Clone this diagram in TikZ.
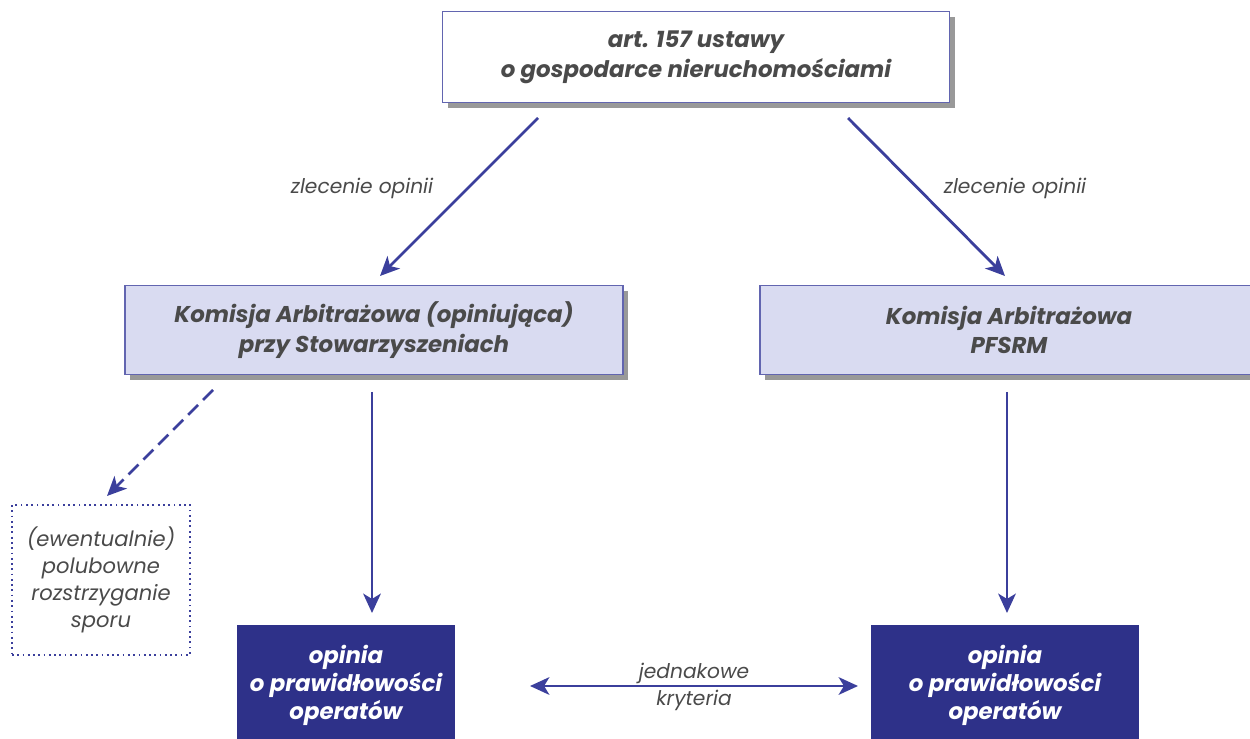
\documentclass[tikz,border=0pt]{standalone}
\usepackage{fontspec}
\setmainfont{Poppins}
\usetikzlibrary{arrows.meta,shadows}

\definecolor{ciemny}{HTML}{2E3189}
\definecolor{strzalka}{HTML}{3B3F9C}
\definecolor{jasny}{HTML}{D9DBF1}
\definecolor{tekst}{HTML}{4A4A4A}

\tikzset{
  ramka/.style={draw=strzalka!80, line width=0.8pt, align=center, inner sep=0pt,
    font=\bfseries\itshape\fontsize{13}{17}\selectfont, text=tekst,
    copy shadow={shadow xshift=3pt, shadow yshift=-3pt, fill=black!40, draw=none}},
  ciemna/.style={fill=ciemny, align=center, inner sep=0pt, text=white,
    font=\bfseries\itshape\fontsize{13}{16}\selectfont},
  kropki/.style={draw=strzalka, dotted, line width=1pt, align=center, inner sep=0pt,
    font=\itshape\fontsize{12}{15.5}\selectfont, text=tekst},
  strz/.style={-{Stealth[length=11pt,width=10pt,inset=3pt]}, strzalka, line width=1.6pt},
  opis/.style={font=\itshape\fontsize{11.5}{14}\selectfont, text=tekst, align=center}
}

\begin{document}
\begin{tikzpicture}[x=0.02cm, y=-0.02cm]
  \useasboundingbox (0,0) rectangle (1250,739);

  % gorny poziom
  \node[ramka, fill=white, minimum width=10.14cm, minimum height=1.82cm] (ustawa) at (696,57) {art. 157 ustawy\\o gospodarce nieruchomościami};

  % komisje
  \node[ramka, fill=jasny, minimum width=9.96cm, minimum height=1.78cm] (kalewa) at (374,330) {Komisja Arbitrażowa (opiniująca)\\przy Stowarzyszeniach};
  \node[ramka, fill=jasny, minimum width=9.96cm, minimum height=1.78cm] (kaprawa) at (1009,330) {Komisja Arbitrażowa\\PFSRM};

  % polubowne
  \node[kropki, minimum width=3.56cm, minimum height=3.0cm] (spor) at (101,580) {(ewentualnie)\\polubowne\\rozstrzyganie\\sporu};

  % opinie
  \node[ciemna, minimum width=4.36cm, minimum height=2.4cm] (opLewa) at (346,685) {opinia\\o prawidłowości\\operatów};
  \node[ciemna, minimum width=5.38cm, minimum height=2.4cm] (opPrawa) at (1005,685) {opinia\\o prawidłowości\\operatów};

  \coordinate (a1) at (538,118);
  \coordinate (a2) at (380,276);
  \coordinate (b1) at (848,118);
  \coordinate (b2) at (1005,276);
  \draw[strz] (a1) -- (a2);
  \draw[strz] (b1) -- (b2);
  \node[opis] (zlec1) at (362,188) {zlecenie opinii};
  \node[opis] (zlec2) at (1015,188) {zlecenie opinii};

  \coordinate (c1) at (372,392);
  \coordinate (c2) at (372,613);
  \coordinate (d1) at (1007,392);
  \coordinate (d2) at (1007,613);
  \draw[strz] (c1) -- (c2);
  \draw[strz] (d1) -- (d2);

  \coordinate (e1) at (213,390);
  \coordinate (e2) at (107,496);
  \draw[strz, dash pattern=on 8pt off 4pt] (e1) -- (e2);

  \coordinate (f1) at (530,686);
  \coordinate (f2) at (858,686);
  \draw[strz, {Stealth[length=11pt,width=10pt,inset=3pt]}-{Stealth[length=11pt,width=10pt,inset=3pt]}] (f1) -- (f2);
  \node[opis, above, inner sep=1pt] (jedn) at (694,686) {jednakowe};
  \node[opis, below, inner sep=2pt] (kryt) at (694,686) {kryteria};
\end{tikzpicture}
\end{document}
